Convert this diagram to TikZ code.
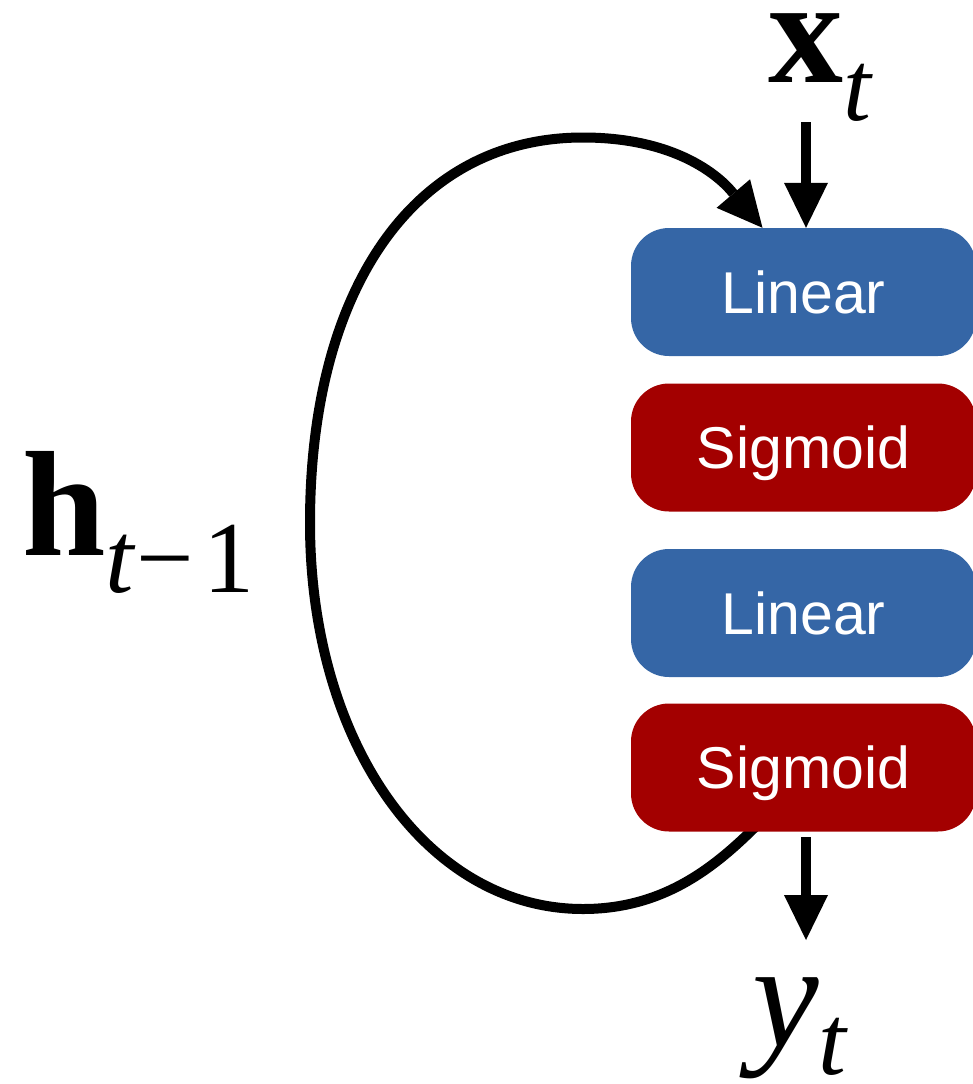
\documentclass[tikz,border=0pt]{standalone}
\usepackage{fontspec}
\setmainfont{Liberation Serif}
\newfontfamily\boxfont{Liberation Sans}
\usetikzlibrary{arrows.meta}
\definecolor{linblue}{HTML}{3566A6}
\definecolor{sigred}{HTML}{A30000}
\pgfdeclarelayer{background}
\pgfsetlayers{background,main}
\begin{document}
\begin{tikzpicture}[x=1pt,y=-1pt,
  layer/.style={rounded corners=38pt, minimum width=345pt, minimum height=128pt,
    inner sep=0pt, text height=42pt, text depth=0pt, text=white,
    font=\boxfont\fontsize{59}{59}\selectfont},
  lin/.style={layer, fill=linblue},
  sig/.style={layer, fill=sigred},
  flow/.style={line width=10pt, -{Triangle[length=45pt,width=44pt,line width=0pt]}},
  lab/.style={inner sep=0pt, anchor=base west}]
\useasboundingbox (0,0) rectangle (972,1084);
\node[lin] (lin1) at (803.5,292) {Linear};
\node[sig] (sig1) at (803.5,447.5) {Sigmoid};
\node[lin] (lin2) at (803.5,613) {Linear};
\node[sig] (sig2) at (803.5,767.5) {Sigmoid};
\node[lab] (xt) at (768,82) {\fontsize{150}{150}\selectfont\bfseries x\raisebox{-38pt}{\fontsize{100}{100}\selectfont\mdseries\itshape t}};
\node[lab] (h) at (22,555) {\fontsize{150}{150}\selectfont\bfseries h\raisebox{-37pt}{\fontsize{102}{102}\selectfont\mdseries\itshape t\kern3pt\upshape −\kern9pt 1}};
\node[lab] (yt) at (752,1046) {\fontsize{150}{150}\selectfont\itshape y\raisebox{-28pt}{\fontsize{100}{100}\selectfont t}};
\coordinate (xin) at (806,122);
\coordinate (sout) at (806,837);
\coordinate (yo) at (806,940);
\coordinate (loopstart) at ([xshift=-47pt,yshift=6pt]sig2.south);
\draw[flow] (xin) -- (xin |- lin1.north);
\draw[flow] (sout) -- (yo);
\begin{pgfonlayer}{background}
\draw[flow] (loopstart) .. controls (714,868) and (663,909) .. (583,909)
  .. controls (427,909) and (310,743) .. (310,523)
  .. controls (310,290) and (413,137.5) .. (583,137.5)
  .. controls (693,137.5) and (732,192) .. ([xshift=-41pt]lin1.north);
\end{pgfonlayer}
\end{tikzpicture}
\end{document}
